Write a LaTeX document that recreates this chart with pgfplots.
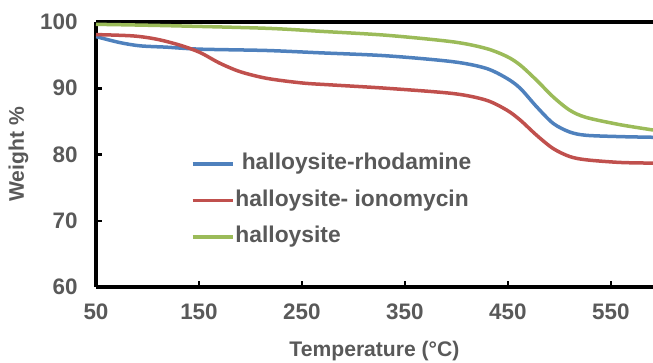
\documentclass[border=0pt]{standalone}
\usepackage{pgfplots}
\pgfplotsset{compat=1.18}
\usepackage{fontspec}
\setmainfont{Liberation Sans}
\definecolor{txtgray}{HTML}{595959}
\definecolor{cblue}{HTML}{4F81BD}
\definecolor{cred}{HTML}{C0504D}
\definecolor{cgreen}{HTML}{9BBB59}
\begin{document}
\begin{tikzpicture}
\useasboundingbox (-96bp,-76bp) rectangle (557bp,287bp);
\begin{axis}[
  scale only axis,
  width=557bp, height=265bp,
  xmin=50, xmax=591, ymin=60, ymax=100,
  xtick={50,150,250,350,450,550},
  ytick={60,70,80,90,100},
  axis x line*=box, axis y line*=left,
  axis line style={line width=3.5bp, black},
  xtick pos=bottom, ytick pos=left,
  tick align=inside,
  major tick length=6bp,
  every tick/.style={black, line width=2.5bp},
  /pgf/number format/assume math mode=true,
  ticklabel style={font=\fontsize{22.5}{26}\selectfont\bfseries, text=txtgray},
  xticklabel style={yshift=-13bp},
  yticklabel style={xshift=-15bp},
  xlabel={Temperature (°C)},
  ylabel={Weight \%},
  label style={font=\fontsize{21.2}{24}\selectfont\bfseries, text=txtgray},
  xlabel style={at={(axis description cs:0.5,-0.193)}, anchor=north},
  ylabel style={at={(axis description cs:-0.1634,0.5)}, anchor=north},
  legend style={draw=none, fill=none, inner sep=0pt, outer sep=0pt,
    at={(axis description cs:0.1705,0.3257)}, anchor=west,
    font=\fontsize{22.9}{26}\selectfont\bfseries, text=txtgray,
    nodes={inner sep=0pt, text height=16.5bp, text depth=5bp, anchor=west},
    row sep=15bp, column sep=1bp},
  legend cell align=left,
  legend image code/.code={\draw[#1, line width=3.5bp] (0bp,0bp) -- (40bp,0bp);},
  clip=true,
]
\addplot[cblue, line width=3.5bp, smooth, tension=0.5] coordinates {
(50,97.8) (73,96.9) (93,96.4) (118.6,96.2) (151,95.9) (215.7,95.7) (267.5,95.35)
(332,94.9) (397,94.0) (429,93.0) (449,91.5) (462,90.0) (478,87.2) (494,84.7)
(510,83.4) (526,82.9) (559,82.7) (591,82.6)};
\addlegendentry{\ halloysite-rhodamine}
\addplot[cred, line width=3.5bp, smooth, tension=0.5] coordinates {
(50,98.1) (86,97.9) (109,97.4) (131.6,96.5) (151,95.4) (170,93.8) (190,92.5)
(215.7,91.5) (250,90.8) (279,90.5) (332,90.0) (397,89.2) (429,88.2) (449,86.7)
(462,85.2) (478,82.9) (494,80.9) (510,79.7) (526,79.2) (559,78.8) (591,78.7)};
\addlegendentry{halloysite- ionomycin}
\addplot[cgreen, line width=3.5bp, smooth, tension=0.5] coordinates {
(50,99.65) (118.6,99.45) (215.7,99.05) (267.5,98.6) (332,98.0) (397,97.0)
(429,96.0) (449,94.8) (462,93.5) (478,91.2) (494,88.7) (510,86.7) (526,85.6)
(559,84.5) (591,83.7)};
\addlegendentry{halloysite}
\end{axis}
\end{tikzpicture}
\end{document}
